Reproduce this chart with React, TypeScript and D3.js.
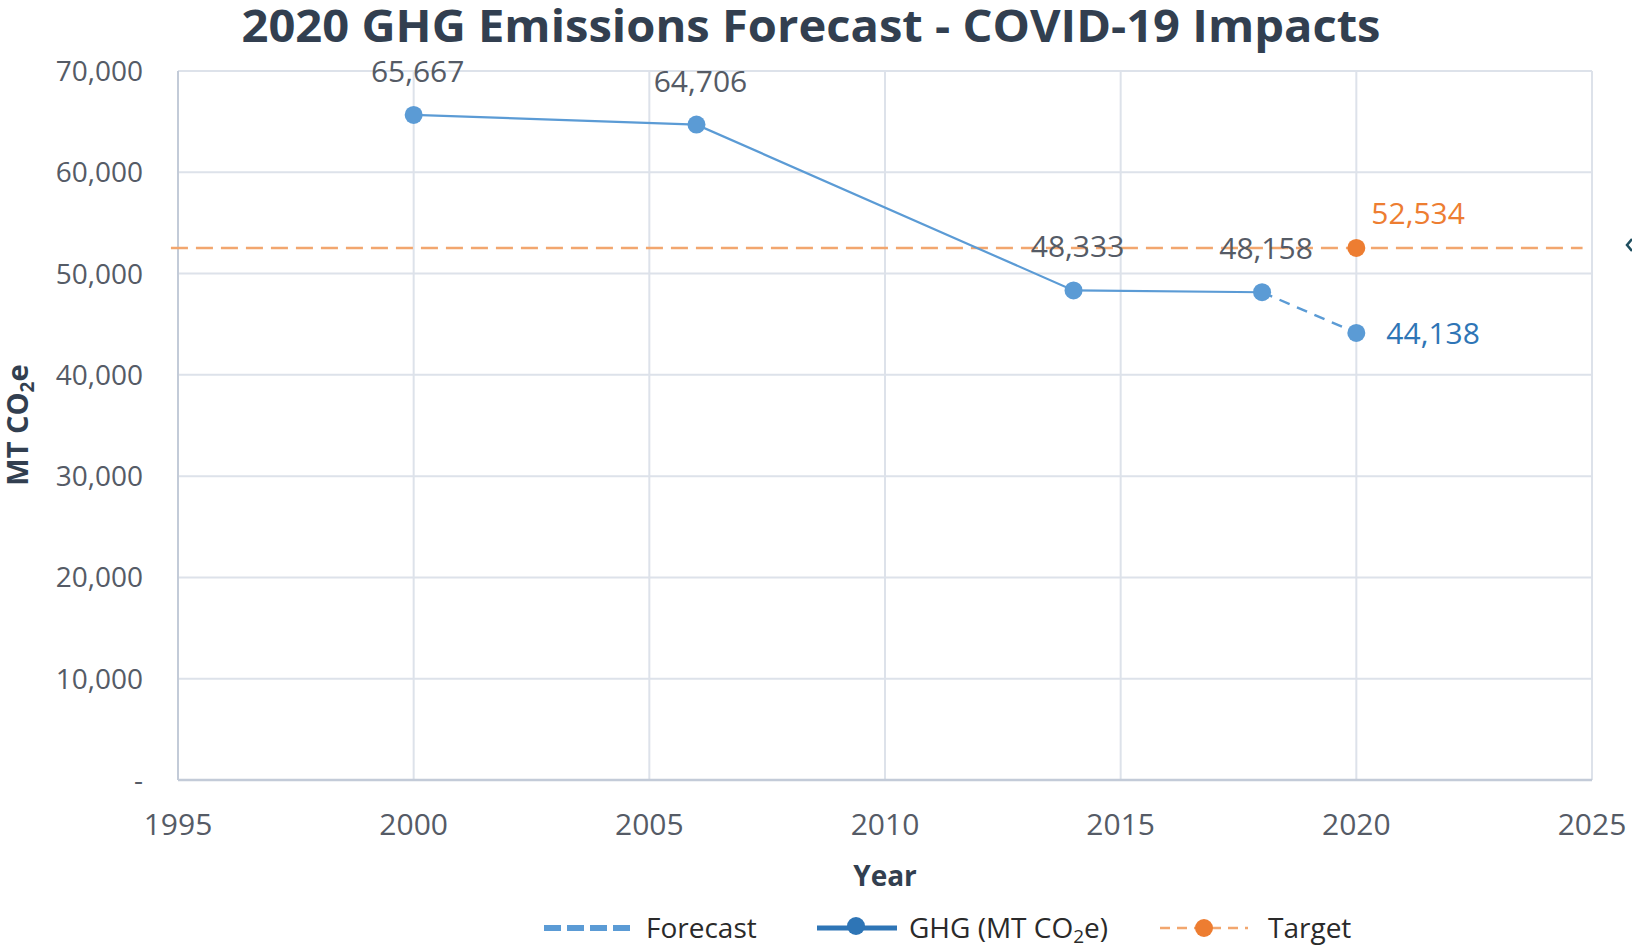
import React from "react";
import * as d3 from "d3";

const years = [2000, 2006, 2014, 2018];
const ghgValues = [65667, 64706, 48333, 48158];
const forecastYears = [2018, 2020];
const forecastValues = [48158, 44138];
const targetYear = 2020;
const targetValue = 52534;
const xTicks = [1995, 2000, 2005, 2010, 2015, 2020, 2025];
const yTicks = [0, 10000, 20000, 30000, 40000, 50000, 60000, 70000];
const targetLineSpan = [1994.85, 2024.8];

const W = 1632;
const H = 947;
const FONT = "'Open Sans', 'Noto Sans', sans-serif";

export default function App() {
  const x = d3.scaleLinear().domain([1995, 2025]).range([178, 1592]);
  const y = d3.scaleLinear().domain([0, 70000]).range([780, 71]);
  const fmt = d3.format(",");
  const line = d3
    .line<[number, number]>()
    .x((d) => x(d[0]))
    .y((d) => y(d[1]));

  const ghgPts: [number, number][] = years.map((yr, i) => [yr, ghgValues[i]]);
  const fcPts: [number, number][] = forecastYears.map((yr, i) => [yr, forecastValues[i]]);

  const blue = "#5b9bd5";
  const darkBlue = "#2e75b6";
  const orange = "#ed7d31";
  const lightOrange = "#f2a66e";
  const grid = "#dde2ea";
  const axisCol = "#c3cbd8";
  const tickCol = "#555b66";
  const titleCol = "#323f50";
  const legendCol = "#2a2a2a";

  return (
    <svg
      width={W}
      height={H}
      style={{ position: "absolute", left: 0, top: 0, display: "block", background: "#fff" }}
      fontFamily={FONT}
    >
      <rect x={0} y={0} width={W} height={H} fill="#fff" />
      {/* title */}
      <text
        x={811}
        y={42}
        textAnchor="middle"
        fontSize={44}
        fontWeight={700}
        fill={titleCol}
        textLength={1139}
        lengthAdjust="spacingAndGlyphs"
      >
        2020 GHG Emissions Forecast - COVID-19 Impacts
      </text>

      {/* gridlines */}
      {yTicks.filter((t) => t > 0).map((t) => (
        <line key={"gy" + t} x1={x(1995)} x2={x(2025)} y1={y(t)} y2={y(t)} stroke={grid} strokeWidth={2} />
      ))}
      {xTicks.filter((t) => t > 1995).map((t) => (
        <line key={"gx" + t} x1={x(t)} x2={x(t)} y1={y(0)} y2={y(70000)} stroke={grid} strokeWidth={2} />
      ))}
      {/* axes */}
      <line x1={x(1995)} x2={x(1995)} y1={y(0)} y2={y(70000)} stroke={axisCol} strokeWidth={2} />
      <line x1={x(1995)} x2={x(2025)} y1={y(0)} y2={y(0)} stroke={axisCol} strokeWidth={2.5} />

      {/* y tick labels */}
      {yTicks.map((t) => (
        <text key={"yl" + t} x={143} y={y(t) + 10} textAnchor="end" fontSize={28} fill={tickCol}>
          {t === 0 ? "-" : fmt(t)}
        </text>
      ))}
      {/* x tick labels */}
      {xTicks.map((t) => (
        <text key={"xl" + t} x={x(t)} y={835} textAnchor="middle" fontSize={30} fill={tickCol}>
          {t}
        </text>
      ))}

      {/* axis titles */}
      <text
        transform={`translate(28,425) rotate(-90)`}
        textAnchor="middle"
        fontSize={29}
        fontWeight={700}
        fill={titleCol}
      >
        MT CO<tspan fontSize={19} dy={6}>2</tspan>
        <tspan dy={-6}>e</tspan>
      </text>
      <text x={885} y={886} textAnchor="middle" fontSize={28} fontWeight={700} fill={titleCol}>
        Year
      </text>

      {/* target dashed line */}
      <line
        x1={x(targetLineSpan[0])}
        x2={x(targetLineSpan[1])}
        y1={y(targetValue)}
        y2={y(targetValue)}
        stroke={lightOrange}
        strokeWidth={2.5}
        strokeDasharray="17,8"
      />

      {/* GHG line */}
      <path d={line(ghgPts) || ""} fill="none" stroke={blue} strokeWidth={2.2} />
      <path d={line(fcPts) || ""} fill="none" stroke={blue} strokeWidth={2.4} strokeDasharray="11,8" />
      {ghgPts.map((p, i) => (
        <circle key={"pt" + i} cx={x(p[0])} cy={y(p[1])} r={9} fill={blue} />
      ))}
      <circle cx={x(fcPts[1][0])} cy={y(fcPts[1][1])} r={9} fill={blue} />
      <circle cx={x(targetYear)} cy={y(targetValue)} r={9} fill={orange} />

      {/* data labels */}
      {ghgPts.map((p, i) => (
        <text
          key={"dl" + i}
          x={x(p[0]) + 4}
          y={y(p[1]) - 33}
          textAnchor="middle"
          fontSize={30}
          fill={tickCol}
        >
          {fmt(p[1])}
        </text>
      ))}
      <text x={x(fcPts[1][0]) + 30} y={y(fcPts[1][1]) + 11} fontSize={30} fill={darkBlue}>
        {fmt(fcPts[1][1])}
      </text>
      <text x={x(targetYear) + 15} y={y(targetValue) - 24} fontSize={30} fill={orange}>
        {fmt(targetValue)}
      </text>

      {/* legend */}
      <line x1={544} x2={630} y1={928} y2={928} stroke={blue} strokeWidth={6} strokeDasharray="17,6" />
      <text x={646} y={938} fontSize={28} fill={legendCol}>Forecast</text>
      <line x1={817} x2={897} y1={928} y2={928} stroke={darkBlue} strokeWidth={5} />
      <circle cx={856} cy={926} r={9} fill={darkBlue} />
      <text x={909} y={938} fontSize={28} fill={legendCol}>
        GHG (MT CO<tspan fontSize={19} dy={5}>2</tspan>
        <tspan dy={-5}>e)</tspan>
      </text>
      <line x1={1160} x2={1248} y1={928} y2={928} stroke={lightOrange} strokeWidth={2.5} strokeDasharray="10,7" />
      <circle cx={1204} cy={928} r={9} fill={orange} />
      <text x={1268} y={938} fontSize={28} fill={legendCol}>Target</text>

      {/* clipped artifact at right edge */}
      <path d="M1632,239 L1627,245 L1632,251" fill="none" stroke="#1f4e5f" strokeWidth={2.5} />
    </svg>
  );
}
